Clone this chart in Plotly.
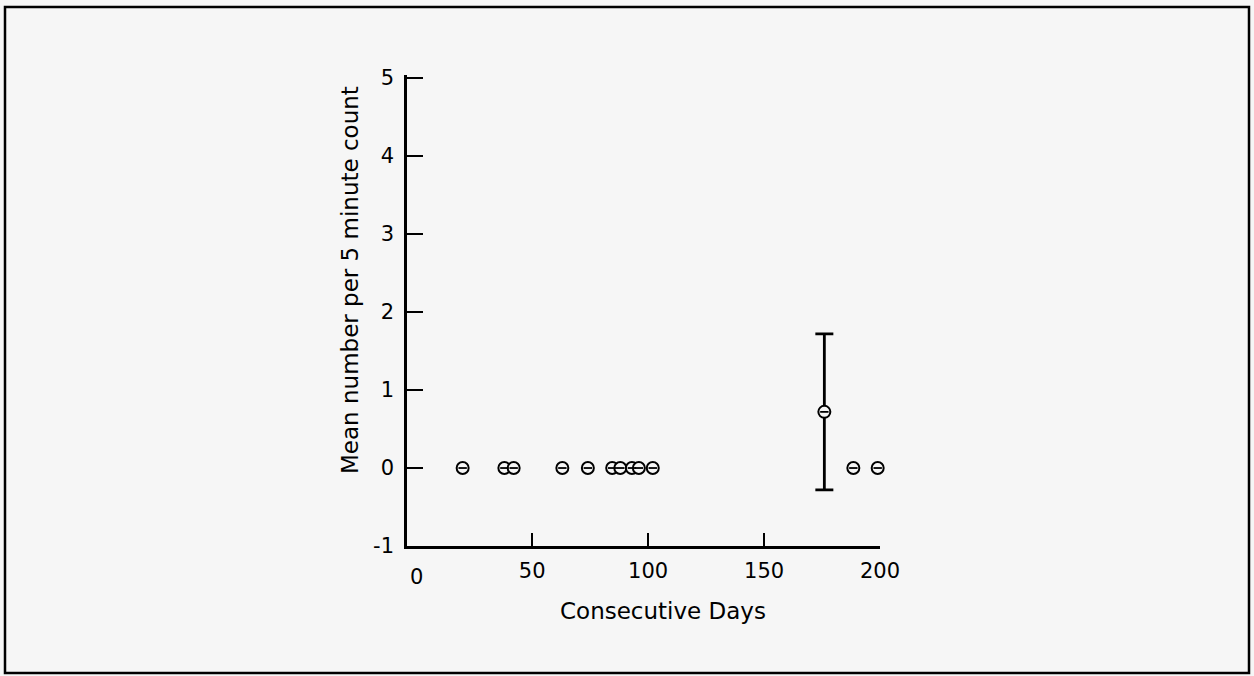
import plotly.graph_objects as go

# Data
days = [20, 38, 42, 63, 74, 84.5, 88, 93, 96, 102, 176, 188.5, 199]
means = [0, 0, 0, 0, 0, 0, 0, 0, 0, 0, 0.72, 0, 0]
errors = [0, 0, 0, 0, 0, 0, 0, 0, 0, 0, 1.0, 0, 0]

x_ticks = [50, 100, 150, 200]
x_tick_text = ["50", "100", "150", "200"]
y_ticks = [-1, 0, 1, 2, 3, 4, 5]
y_tick_text = ["-1", "0", "1", "2", "3", "4", "5"]

W, H = 1254, 676
ML, MR, MT, MB = 407, 374, 75, 130
PW, PH = W - ML - MR, H - MT - MB

def px_x(p):
    return (p - ML) / PW

def px_y(p):
    return (H - MB - p) / PH

FONT = "DejaVu Sans, sans-serif"
BG = "#f6f6f6"

eb_x = [d for d, e in zip(days, errors) if e > 0]
eb_y = [m for m, e in zip(means, errors) if e > 0]
eb_e = [e for e in errors if e > 0]

fig = go.Figure()
# error bars (only where an error exists)
fig.add_trace(go.Scatter(
    x=eb_x, y=eb_y, mode="markers", cliponaxis=False,
    marker=dict(size=1, color="rgba(0,0,0,0)"),
    error_y=dict(type="data", array=eb_e, visible=True, color="black", thickness=2.8, width=9),
    showlegend=False, hoverinfo="skip",
))
fig.add_trace(go.Scatter(
    x=days, y=means, mode="markers", cliponaxis=False,
    marker=dict(symbol="circle", size=12, color=BG, line=dict(color="black", width=2)),
    showlegend=False,
))
fig.add_trace(go.Scatter(
    x=days, y=means, mode="markers", cliponaxis=False,
    marker=dict(symbol="line-ew-open", size=6, color="black", line=dict(color="black", width=1.8)),
    showlegend=False, hoverinfo="skip",
))

fig.update_layout(
    width=W, height=H,
    margin=dict(l=ML, r=MR, t=MT, b=MB, pad=0),
    paper_bgcolor=BG, plot_bgcolor=BG,
    font=dict(family=FONT, size=21, color="black"),
    xaxis=dict(
        range=[-4, 200], tickvals=x_ticks, ticktext=x_tick_text, ticks="inside", ticklen=13, tickwidth=2,
        tickcolor="black", showline=True, linecolor="black", linewidth=2.5,
        showgrid=False, zeroline=False, ticklabelstandoff=4,
        tickfont=dict(family=FONT, size=21),
    ),
    yaxis=dict(
        range=[-1.0, 5.04], tickvals=y_ticks, ticktext=y_tick_text, ticks="inside", ticklen=16, tickwidth=2,
        tickcolor="black", showline=True, linecolor="black", linewidth=2.5,
        showgrid=False, zeroline=False, ticklabelstandoff=6,
        tickfont=dict(family=FONT, size=21),
    ),
    annotations=[
        dict(text="0", xref="x", yref="paper",
             x=0, y=px_y(577), xanchor="center", yanchor="middle",
             showarrow=False, font=dict(family=FONT, size=21)),
        dict(text="Consecutive Days", xref="paper", yref="paper",
             x=px_x(663), y=px_y(611), xanchor="center", yanchor="middle",
             showarrow=False, font=dict(family=FONT, size=23)),
        dict(text="Mean number per 5 minute count", xref="paper", yref="paper",
             x=px_x(350), y=px_y(280), xanchor="center", yanchor="middle", textangle=-90,
             showarrow=False, font=dict(family=FONT, size=23)),
    ],
    shapes=[
        dict(type="rect", xref="paper", yref="paper",
             x0=px_x(5), x1=px_x(1249), y0=px_y(673), y1=px_y(7),
             line=dict(color="black", width=2.5), fillcolor="rgba(0,0,0,0)", layer="below"),
    ],
)

fig.write_html("out.html", config={"displayModeBar": False},
               post_script="document.body.style.margin='0';document.body.style.overflow='hidden';")
